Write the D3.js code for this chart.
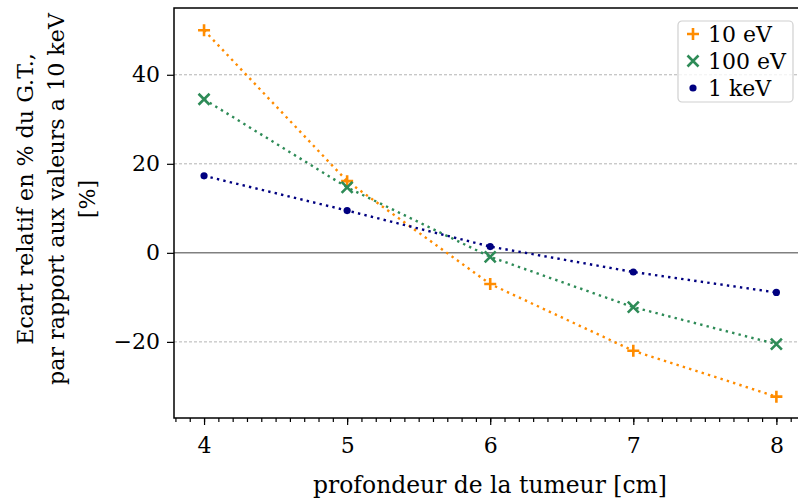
<!DOCTYPE html>
<html>
<head>
<meta charset="utf-8">
<script src="https://cdn.jsdelivr.net/npm/d3@7"></script>
<style>
body { margin: 0; background: #fff; }
svg text { font-family: "DejaVu Serif", "Liberation Serif", serif; fill: #000; }
</style>
</head>
<body>
<div class="chart"></div>
<script>
var svgWidth = 798;
var svgHeight = 498;

var margin = { top: 8, right: -7, bottom: 80, left: 174 };
var width = svgWidth - margin.left - margin.right;
var height = svgHeight - margin.top - margin.bottom;

// data
var depths = [4, 5, 6, 7, 8];
var ev10 = [50.0, 16.1, -7.0, -22.0, -32.3];
var ev100 = [34.5, 14.7, -0.9, -12.2, -20.5];
var kev1 = [17.3, 9.5, 1.4, -4.3, -8.9];
var seriesNames = ["10 eV", "100 eV", "1 keV"];
var xTicks = [4, 5, 6, 7, 8];
var yTicks = [-20, 0, 20, 40];

var series = [
  { name: seriesNames[0], values: ev10, color: "#ff8c00", marker: "plus" },
  { name: seriesNames[1], values: ev100, color: "#2e8b57", marker: "cross" },
  { name: seriesNames[2], values: kev1, color: "#000080", marker: "dot" }
];

var svg = d3.select(".chart").append("svg")
  .attr("width", svgWidth)
  .attr("height", svgHeight);

var chart = svg.append("g")
  .attr("transform", "translate(" + margin.left + "," + margin.top + ")");

var x = d3.scaleLinear().domain([3.79, 8.2]).range([0, width]);
var y = d3.scaleLinear().domain([-37.1, 55]).range([height, 0]);

// shrink or grow a text so that it is as wide as in the picture
function fitText(sel, target) {
  var fs = parseFloat(sel.style("font-size"));
  var w = sel.node().getComputedTextLength();
  sel.style("font-size", (fs * target / w).toFixed(2) + "px");
}

// horizontal grid lines
chart.selectAll(".grid")
  .data(yTicks.filter(function(d) { return d !== 0; }))
  .enter().append("line")
  .attr("x1", 0).attr("x2", width)
  .attr("y1", function(d) { return y(d); })
  .attr("y2", function(d) { return y(d); })
  .attr("stroke", "#a0a0a0")
  .attr("stroke-width", 0.8)
  .attr("stroke-dasharray", "3,2");

chart.append("line")
  .attr("x1", 0).attr("x2", width)
  .attr("y1", y(0)).attr("y2", y(0))
  .attr("stroke", "#808080")
  .attr("stroke-width", 1.5);

// lines
var line = d3.line()
  .x(function(d, i) { return x(depths[i]); })
  .y(function(d) { return y(d); });

series.forEach(function(s) {
  chart.append("path")
    .datum(s.values)
    .attr("d", line)
    .attr("fill", "none")
    .attr("stroke", s.color)
    .attr("stroke-width", 2.4)
    .attr("stroke-dasharray", "2.4,4.2");
});

function drawMarker(g, type, color, cx, cy) {
  if (type === "plus") {
    g.append("path")
      .attr("d", "M" + (cx - 6) + "," + cy + "H" + (cx + 6) + "M" + cx + "," + (cy - 6) + "V" + (cy + 6))
      .attr("stroke", color).attr("stroke-width", 2.6).attr("fill", "none");
  } else if (type === "cross") {
    g.append("path")
      .attr("d", "M" + (cx - 5.5) + "," + (cy - 5.5) + "L" + (cx + 5.5) + "," + (cy + 5.5) +
        "M" + (cx - 5.5) + "," + (cy + 5.5) + "L" + (cx + 5.5) + "," + (cy - 5.5))
      .attr("stroke", color).attr("stroke-width", 2.6).attr("fill", "none");
  } else {
    g.append("circle")
      .attr("cx", cx).attr("cy", cy).attr("r", 3.6)
      .attr("fill", color);
  }
}

series.forEach(function(s) {
  var g = chart.append("g");
  s.values.forEach(function(v, i) {
    drawMarker(g, s.marker, s.color, x(depths[i]), y(v));
  });
});

// axes
var bottomAxis = d3.axisBottom(x).tickValues(xTicks).tickSize(7).tickPadding(12)
  .tickFormat(d3.format("d"));
var minorAxis = d3.axisBottom(x).tickValues(d3.range(38, 83).map(function(d) { return d / 10; }))
  .tickSize(4).tickFormat("");
var leftAxis = d3.axisLeft(y).tickValues(yTicks).tickSize(7).tickPadding(7)
  .tickFormat(function(d) { return d < 0 ? "\u2212" + Math.abs(d) : d; });

var gx = chart.append("g").attr("transform", "translate(0," + height + ")").call(bottomAxis);
var gm = chart.append("g").attr("transform", "translate(0," + height + ")").call(minorAxis);
var gy = chart.append("g").call(leftAxis);

[gx, gm, gy].forEach(function(g) {
  g.attr("font-family", null).attr("font-size", null);
  g.select(".domain").remove();
  g.selectAll("line").attr("stroke", "#000").attr("stroke-width", 1.2);
  g.selectAll("text").style("font-size", "22px");
});

// frame
chart.append("rect")
  .attr("x", 0).attr("y", 0).attr("width", width).attr("height", height)
  .attr("fill", "none").attr("stroke", "#000").attr("stroke-width", 1.5);

// axis labels
var xLabel = svg.append("text")
  .attr("x", 490)
  .attr("y", 493)
  .attr("text-anchor", "middle")
  .style("font-size", "24px")
  .text("profondeur de la tumeur [cm]");
fitText(xLabel, 354);

var yLabel = svg.append("text")
  .attr("transform", "translate(0,199) rotate(-90)")
  .attr("text-anchor", "middle")
  .style("font-size", "24px");
["Ecart relatif en % du G.T.,", "par rapport aux valeurs a 10 keV", "[%]"].forEach(function(t, i) {
  yLabel.append("tspan").attr("x", 0).attr("y", 33 + i * 31).text(t);
});
var fs = parseFloat(yLabel.style("font-size"));
var w2 = yLabel.selectAll("tspan").nodes()[1].getComputedTextLength();
yLabel.style("font-size", (fs * 372 / w2).toFixed(2) + "px");

// legend
var legend = svg.append("g").attr("transform", "translate(678,21)");
legend.append("rect")
  .attr("width", 115).attr("height", 81).attr("rx", 4)
  .attr("fill", "#fff").attr("fill-opacity", 0.8)
  .attr("stroke", "#d0d0d0").attr("stroke-width", 1.2);
series.forEach(function(s, i) {
  var g = legend.append("g");
  drawMarker(g, s.marker, s.color, 15, 13 + i * 27);
  g.append("text").attr("x", 30).attr("y", 13 + i * 27 + 8)
    .style("font-size", "22px").text(s.name);
});
</script>
</body>
</html>
